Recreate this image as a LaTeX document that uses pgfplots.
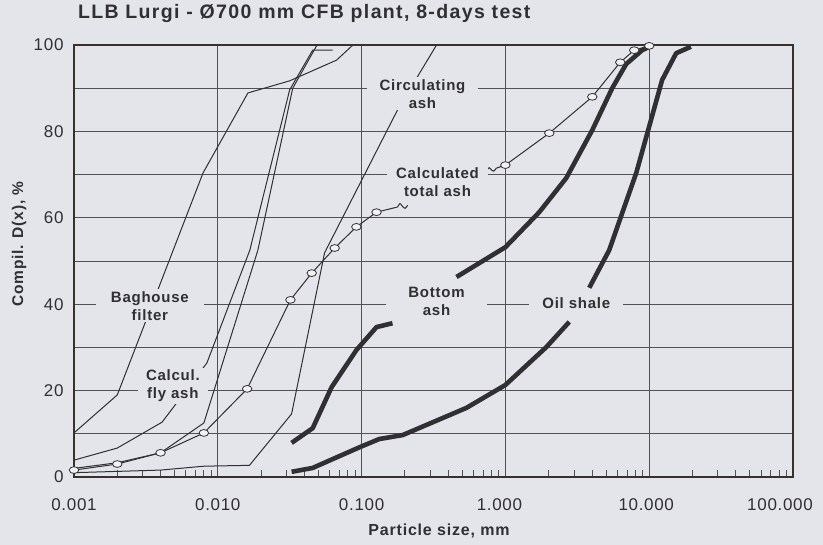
\documentclass[border=0pt]{standalone}
\usepackage{pgfplots}
\pgfplotsset{compat=1.18}
\usepackage{fontspec}
\setmainfont{Liberation Sans}
\newfontfamily\titlefont[LetterSpace=7]{Liberation Sans}
\newfontfamily\lblfont[LetterSpace=5]{Liberation Sans}
\newfontfamily\tickfont[LetterSpace=4]{Liberation Sans}
\definecolor{bgc}{RGB}{227,229,235}
\definecolor{ink}{RGB}{48,47,50}
\definecolor{gridc}{RGB}{80,80,86}
\definecolor{frame}{RGB}{58,48,44}
\definecolor{markfill}{RGB}{242,242,245}
\tikzset{
  thinc/.style={line width=1bp, draw=ink, mark=none},
  thickc/.style={line width=4.6bp, draw=ink, mark=none, line join=round},
  lbl/.style={font=\lblfont\bfseries\fontsize{15bp}{18bp}\selectfont, text=ink, fill=bgc, align=center, inner ysep=2bp},
}
\begin{document}
\begin{tikzpicture}
\path[use as bounding box, fill=bgc] (-74bp,-68bp) rectangle (749bp,477bp);
\begin{axis}[
  at={(0,0)}, anchor=south west,
  scale only axis, width=719bp, height=432bp,
  xmode=log, xmin=0.001, xmax=100, ymin=0, ymax=100,
  xtick={0.001,0.01,0.1,1,10,100},
  xticklabels={0.001,0.010,0.100,1.000\rule{12bp}{0pt},10.000\rule{6bp}{0pt},100.000\rule{26bp}{0pt}},
  ytick={0,20,40,60,80,100},
  minor ytick={10,30,50,70,90},
  xmajorgrids=true, ymajorgrids=true, yminorgrids=true,
  major grid style={line width=0.7bp, draw=gridc},
  minor grid style={line width=0.7bp, draw=gridc},
  axis line style={line width=2.6bp, draw=frame},
  tick align=inside,
  xtick pos=lower, ytick pos=left,
  major tick length=0pt,
  minor tick length=7bp,
  every minor tick/.style={line width=0.8bp, draw=gridc},
  /pgf/number format/assume math mode=true,
  ticklabel style={font=\tickfont\fontsize{17bp}{20bp}\selectfont, text=ink},
  xticklabel style={yshift=-18bp},
  yticklabel style={xshift=-7bp},
  clip=false,
]
% Baghouse filter
\addplot[thinc] coordinates {(0.001,10.2) (0.002,19) (0.0079,70.4) (0.0162,88.9) (0.0316,91.7) (0.067,96.5) (0.087,100)};
% Calcul. fly ash
\addplot[thinc] coordinates {(0.001,3.9) (0.002,6.7) (0.0041,12.7) (0.0084,26.4) (0.0167,52.5) (0.0316,89.6) (0.0457,98.8) (0.063,98.8)};
% another fine curve
\addplot[thinc] coordinates {(0.001,2.0) (0.002,3.3) (0.004,5.6) (0.008,12.5) (0.019,52.5) (0.0332,90) (0.049,100)};
% Circulating ash
\addplot[thinc] coordinates {(0.001,1.0) (0.004,1.6) (0.008,2.5) (0.0166,2.7) (0.0326,14.6) (0.0553,51.9) (0.178,85) (0.332,100)};
% Calculated total ash (two parts with break marks)
\addplot[thinc] coordinates {(0.127,61.3) (0.178,62.5)};
\addplot[thinc, smooth] coordinates {(0.178,62.5) (0.185,63.3) (0.193,62.6) (0.201,62.2) (0.209,62.9)};
\addplot[thinc, smooth] coordinates {(0.74,70.9) (0.77,71.6) (0.80,71.1) (0.83,70.8) (0.866,71.5)};
\addplot[thinc] coordinates {(0.866,71.5) (1.0,72.2)};
\addplot[thinc, mark=*, mark size=3.4bp, mark options={xscale=1.4, fill=markfill, draw=ink, line width=0.8bp}]
  coordinates {(0.001,1.6) (0.002,3.0) (0.004,5.6) (0.008,10.2) (0.016,20.4) (0.032,41) (0.045,47.2) (0.065,53) (0.092,57.9) (0.127,61.3)};
\addplot[thinc, mark=*, mark size=3.4bp, mark options={xscale=1.4, fill=markfill, draw=ink, line width=0.8bp}]
  coordinates {(1.0,72.2) (2.02,79.6) (4.02,88) (6.29,96) (7.87,98.8) (10,99.8)};
% Bottom ash
\addplot[thickc] coordinates {(0.0326,7.9) (0.0457,11.3) (0.0619,20.8) (0.0921,29.4) (0.127,34.7) (0.164,35.6)};
\addplot[thickc] coordinates {(0.457,46.3) (1.0,53.2) (1.72,61.3) (2.65,69.2) (4.02,80.3) (5.53,90) (6.92,95.6) (8.94,98.8) (10.3,99.8)};
% Oil shale
\addplot[thickc] coordinates {(0.0326,1.2) (0.0457,2.1) (0.097,6.9) (0.133,8.8) (0.193,9.7) (0.536,16) (1.0,21.3) (1.93,30.1) (2.78,35.9)};
\addplot[thickc] coordinates {(3.83,43.8) (5.27,52.5) (8.13,70.4) (12.3,91.9) (15.4,98.1) (19.5,99.6)};
% labels
\node[lbl, inner xsep=13bp] at (axis cs:0.265,88.7) {Circulating\\ash};
\node[lbl, inner xsep=9bp] at (axis cs:0.337,68.3) {Calculated\\total ash};
\node[lbl, inner xsep=15bp] at (axis cs:0.00337,39.6) {Baghouse\\filter};
\node[lbl, inner xsep=8bp] at (axis cs:0.00487,21.1) {Calcul.\\fly ash};
\node[lbl, inner xsep=22bp] at (axis cs:0.332,40.7) {Bottom\\ash};
\node[lbl, inner xsep=13bp] at (axis cs:3.11,40.3) {Oil shale};
\end{axis}
\node[anchor=west, font=\titlefont\bfseries\fontsize{19.5bp}{22bp}\selectfont, text=ink] at (0.5bp,463bp) {LLB Lurgi - Ø700 mm CFB plant, 8-days test};
\node[font=\lblfont\bfseries\fontsize{16bp}{19bp}\selectfont, text=ink] at (365bp,-54bp) {Particle size, mm};
\node[rotate=90, font=\lblfont\bfseries\fontsize{15.5bp}{19bp}\selectfont, text=ink] at (-55bp,233bp) {Compil. D(x), \%};
\end{tikzpicture}
\end{document}
